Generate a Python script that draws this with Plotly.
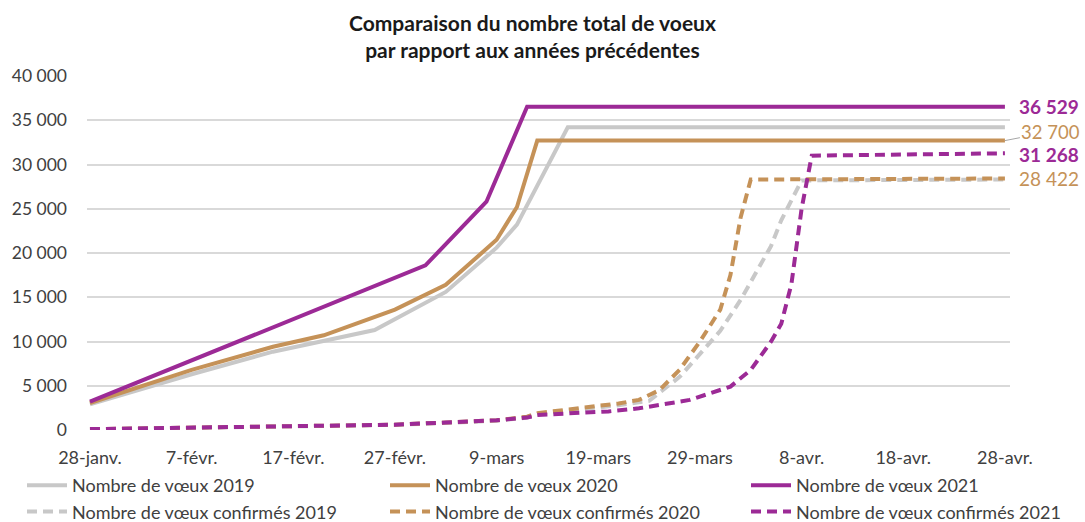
import plotly.graph_objects as go
from datetime import datetime, timedelta

# ---- data ----
start_date = datetime(2021, 1, 28)
tick_days = [0, 10, 20, 30, 40, 50, 60, 70, 80, 90]
tick_labels = ["28-janv.", "7-févr.", "17-févr.", "27-févr.", "9-mars",
               "19-mars", "29-mars", "8-avr.", "18-avr.", "28-avr."]

days_v2019 = [0, 10, 18, 28, 35, 40, 42, 47, 90]
voeux_2019 = [2900, 6300, 8850, 11300, 15600, 20600, 23200, 34200, 34200]

days_v2020 = [0, 10, 18, 23, 30, 35, 40, 42, 44, 90]
voeux_2020 = [3050, 6800, 9400, 10700, 13600, 16400, 21500, 25200, 32700, 32700]

days_v2021 = [0, 33, 39, 43, 90]
voeux_2021 = [3200, 18600, 25800, 36529, 36529]

days_c2019 = [0, 10, 20, 30, 35, 40, 43, 44, 52, 55, 58, 62, 64, 67, 68, 70, 90]
conf_2019 = [80, 230, 380, 580, 800, 1050, 1400, 1800, 2800, 3300, 6000, 11200, 14700, 20800, 23700, 28200, 28300]

days_c2020 = [0, 10, 20, 30, 35, 40, 43, 44, 52, 54, 56, 58, 60, 62, 63, 64, 65, 90]
conf_2020 = [100, 250, 400, 600, 850, 1100, 1500, 1900, 3000, 3400, 4500, 6800, 10000, 13600, 17500, 24000, 28300, 28422]

days_c2021 = [0, 10, 20, 30, 35, 40, 43, 44, 51, 54, 59, 63, 65, 66, 67, 68, 69, 70, 71, 90]
conf_2021 = [100, 250, 400, 600, 850, 1100, 1400, 1700, 2100, 2450, 3400, 4900, 6800, 8500, 10000, 12000, 16500, 25000, 31000, 31268]

y_ticks = [0, 5000, 10000, 15000, 20000, 25000, 30000, 35000, 40000]

GRAY = "#C8C8C8"
TAN = "#C59258"
PURPLE = "#9C2A96"
TEXT = "#404040"
FONT = "Lato, 'Open Sans', sans-serif"
W, H = 1085, 522


def to_dates(days):
    return [start_date + timedelta(days=d) for d in days]


def fmt(v):
    return f"{v:,}".replace(",", " ")


series = [
    ("Nombre de vœux 2019", days_v2019, voeux_2019, GRAY, "solid", "legend"),
    ("Nombre de vœux 2020", days_v2020, voeux_2020, TAN, "solid", "legend2"),
    ("Nombre de vœux 2021", days_v2021, voeux_2021, PURPLE, "solid", "legend3"),
    ("Nombre de vœux confirmés 2019", days_c2019, conf_2019, GRAY, "10px,6px", "legend"),
    ("Nombre de vœux confirmés 2020", days_c2020, conf_2020, TAN, "10px,6px", "legend2"),
    ("Nombre de vœux confirmés 2021", days_c2021, conf_2021, PURPLE, "10px,6px", "legend3"),
]

fig = go.Figure()
for name, d, v, col, dash, lg in series:
    fig.add_trace(go.Scatter(
        x=to_dates(d), y=v, mode="lines", name=name, legend=lg,
        line=dict(color=col, width=4, dash=dash),
    ))

last = to_dates([days_v2021[-1]])[0]
annos = [
    (voeux_2021[-1], PURPLE, True, 0),
    (conf_2021[-1], PURPLE, True, -1),
    (conf_2020[-1], TAN, False, 0),
]
for val, col, bold, dy in annos:
    txt = f"<b>{fmt(val)}</b>" if bold else fmt(val)
    fig.add_annotation(x=last, y=val, text=txt, showarrow=False,
                       xanchor="left", xshift=12, yshift=dy,
                       font=dict(family=FONT, size=19, color=col))
fig.add_annotation(x=last, y=voeux_2020[-1], text=fmt(voeux_2020[-1]),
                   showarrow=True, arrowhead=0, arrowwidth=1, arrowcolor="#A6A6A6",
                   ax=46, ay=-9, xanchor="center",
                   font=dict(family=FONT, size=18.5, color=TAN))

# title as a centered two-line annotation
fig.add_annotation(text="<b>Comparaison du nombre total de voeux<br>par rapport aux années précédentes</b>",
                   xref="paper", yref="paper", x=(532 - 87) / (1010 - 87), y=(430 - 8) / 354,
                   xanchor="center", yanchor="top", showarrow=False,
                   font=dict(family=FONT, size=21, color="#1a1a1a"))

leg_common = dict(orientation="v", xref="container", yref="container",
                  xanchor="left", yanchor="top", y=1 - 467 / H,
                  font=dict(family=FONT, size=18, color=TEXT),
                  itemwidth=40, tracegroupgap=0, bgcolor="rgba(0,0,0,0)")

fig.update_layout(
    width=W, height=H,
    margin=dict(l=87, r=75, t=76, b=92, autoexpand=False),
    paper_bgcolor="white", plot_bgcolor="white",
    font=dict(family=FONT, color=TEXT),
    showlegend=True,
    legend=dict(x=22 / W, **leg_common),
    legend2=dict(x=385 / W, **leg_common),
    legend3=dict(x=746 / W, **leg_common),
)
fig.update_xaxes(
    range=[start_date - timedelta(hours=7), start_date + timedelta(days=90, hours=12)],
    tickvals=to_dates(tick_days), ticktext=tick_labels,
    showgrid=False, zeroline=False, showline=False, ticks="",
    ticklabelstandoff=15, automargin=False,
    tickfont=dict(family=FONT, size=18, color=TEXT),
)
fig.update_yaxes(
    range=[0, 40000], tickvals=y_ticks, ticktext=[fmt(v) for v in y_ticks],
    showgrid=True, gridcolor="#D9D9D9", gridwidth=1.5, zeroline=False,
    showline=False, ticks="", ticklabelstandoff=19, automargin=False,
    tickfont=dict(family=FONT, size=17.5, color=TEXT),
)

fig.write_html("out.html", config={"displayModeBar": False},
               post_script="document.body.style.margin='0px';")
